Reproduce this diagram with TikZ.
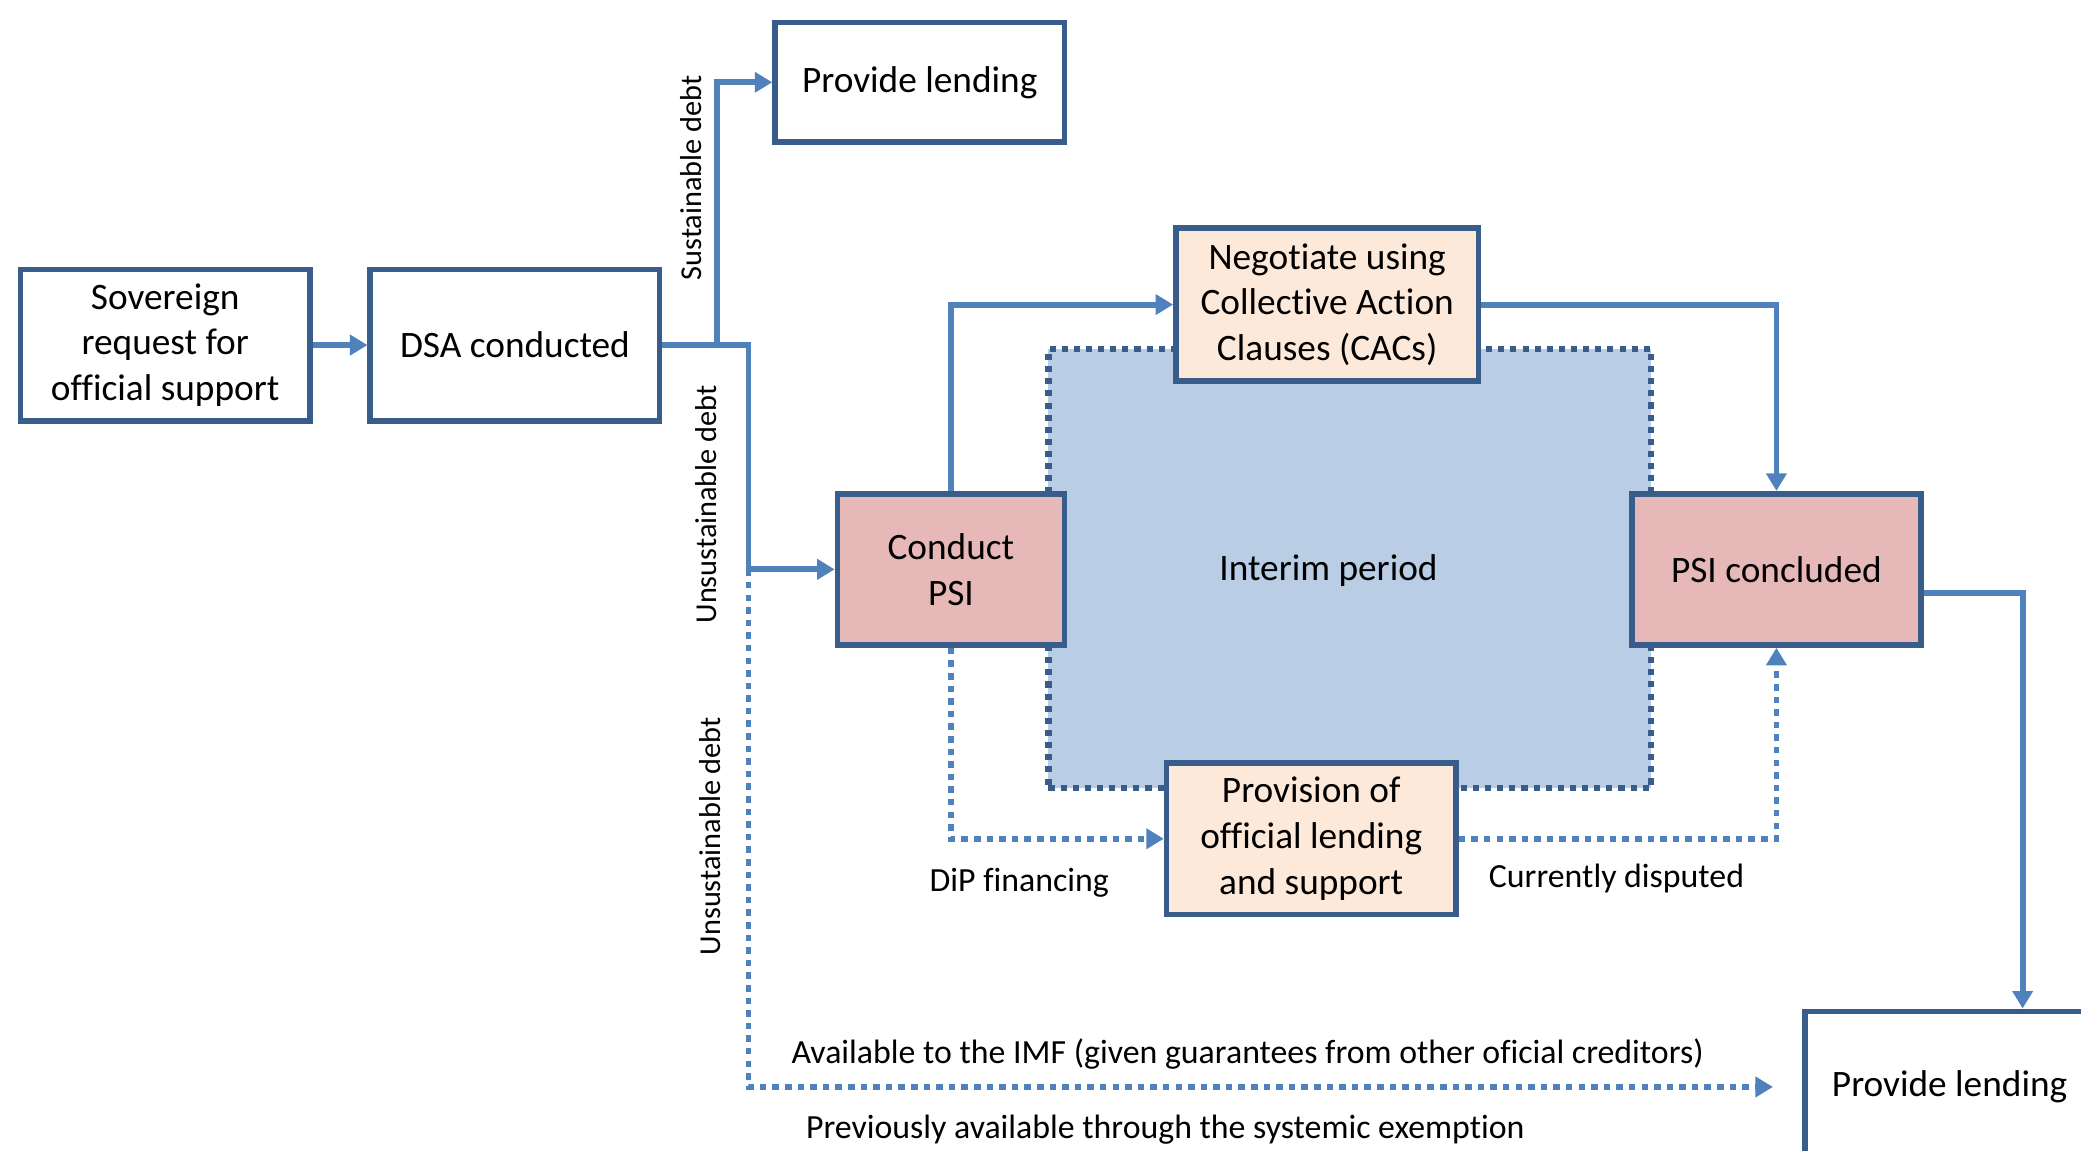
\documentclass[tikz,border=0pt]{standalone}
\usepackage{fontspec}
\setmainfont{Carlito}[Ligatures=NoCommon]
\usepackage{tikz}
\usetikzlibrary{positioning, arrows.meta}

\definecolor{lineblue}{HTML}{4F81BD}
\definecolor{edgeblue}{HTML}{385D8A}
\definecolor{interimfill}{HTML}{B9CDE5}
\definecolor{peach}{HTML}{FDE9D9}
\definecolor{rose}{HTML}{E6B9B8}

\begin{document}
\begin{tikzpicture}[x=0.2mm, y=-0.2mm,
		box/.style={draw=edgeblue, line width=2.4pt, fill=white, align=center,
			inner sep=0pt, minimum width=43.6mm, minimum height=22.8mm,
			font=\fontsize{16}{19.6}\selectfont},
		psibox/.style={box, fill=rose},
		talkbox/.style={box, fill=peach},
		flow/.style={draw=lineblue, line width=2.5pt, -{Triangle[length=7.5pt,width=8.5pt]}},
		dflow/.style={flow, dash pattern=on 2.8pt off 2.6pt},
		lbl/.style={font=\fontsize{14.5}{17}\selectfont, inner sep=0pt},
		sidelbl/.style={font=\fontsize{13}{15}\selectfont, rotate=90, inner sep=0pt}]

		\useasboundingbox (0,0) rectangle (1568,867);
		\clip (0,0) rectangle (1568,867);

		% INTERIM PERIOD (drawn first, boxes sit on top of it)
		\node[fill=interimfill, draw=edgeblue, line width=2.6pt,
			dash pattern=on 2.6pt off 2.6pt,
			minimum width=90.8mm, minimum height=66.2mm] (interim) at (1017,428.5) {};
		\node[lbl, font=\fontsize{16}{19.6}\selectfont] (interimtxt) at (1001,430) {Interim period};

		% REQUEST
		\node[box] (sov) at (124.5,260) {Sovereign\\request for\\official support};
		\node[box] (dsa) at (388,260) {DSA conducted};
		\node[box, minimum height=18mm] (lendtop) at (693,62) {Provide lending};

		% RESTRUCTURING
		\node[psibox, minimum width=34.2mm] (cpsi) at (716.5,429) {Conduct\\PSI};
		\node[talkbox, minimum width=45.6mm, minimum height=23mm] (cac) at (1000,229.5)
			{Negotiate using\\Collective Action\\Clauses (CACs)};
		\node[talkbox] (prov) at (988,632) {Provision of\\official lending\\and support};
		\node[psibox] (psic) at (1338.5,429) {PSI concluded};

		% OUTPUT
		\node[box] (lendbot) at (1469,819) {Provide lending};

		% bends
		\coordinate (split) at (540,260);
		\coordinate (junc) at (564,429);

		% connectors
		\draw[flow] (sov.east) -- (dsa.west);
		\draw[flow] (dsa.east) -- (split) |- (lendtop.west);
		\draw[flow] (dsa.east) -| (junc) -- (cpsi.west);
		\draw[dflow, shorten >=4.4mm] (junc) |- (lendbot.west);
		\draw[flow] (cpsi.north) |- (cac.west);
		\draw[flow] (cac.east) -| (psic.north);
		\draw[dflow] (cpsi.south) |- (prov.west);
		\draw[dflow] (prov.east) -| (psic.south);
		\draw[flow] ([yshift=-3.6mm]psic.east) -| ([xshift=11mm]lendbot.north);

		% labels
		\node[sidelbl] (sustlbl) at (521,134) {Sustainable debt};
		\node[sidelbl] (unsustup) at (532,380) {Unsustainable debt};
		\node[sidelbl] (unsustlow) at (535,630) {Unsustainable debt};
		\node[lbl] (dip) at (768,665) {DiP financing};
		\node[lbl] (disp) at (1218,662) {Currently disputed};
		\node[lbl] (avail) at (940,794) {Available to the IMF (given guarantees from other oficial creditors)};
		\node[lbl] (prev) at (878,851) {Previously available through the systemic exemption};

	\end{tikzpicture}
\end{document}
